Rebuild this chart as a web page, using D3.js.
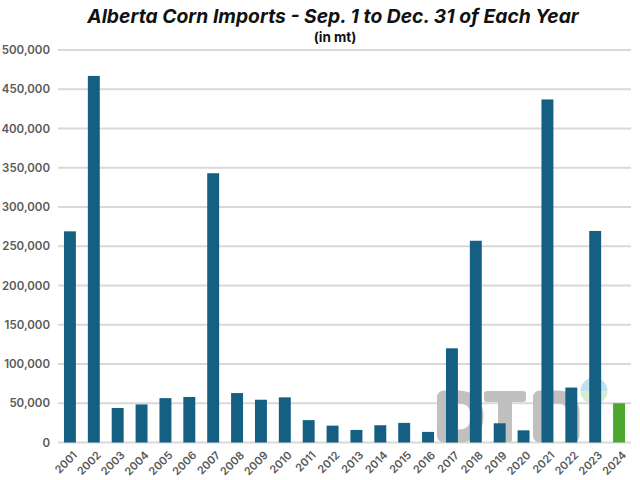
<!DOCTYPE html>
<html>
<head>
<meta charset="utf-8">
<script src="https://cdnjs.cloudflare.com/ajax/libs/d3/7.8.5/d3.min.js"></script>
<style>
  html, body { margin: 0; padding: 0; background: #fff; }
  svg { display: block; }
  text { font-family: "Inter", "Open Sans", sans-serif; }
  .grid line { stroke: #d9d9d9; stroke-width: 2px; }
  .tick-label { fill: #595959; font-weight: 600; }
</style>
</head>
<body>
<div id="container"></div>
<script>
var years = ['2001','2002','2003','2004','2005','2006','2007','2008','2009','2010','2011','2012',
  '2013','2014','2015','2016','2017','2018','2019','2020','2021','2022','2023','2024'];
var imports = [269000,467000,44000,48500,56500,58000,343000,63000,54500,57500,28500,21500,
  16000,22000,25000,13500,120000,257000,24500,15500,437000,70000,269500,50000];
var yTicks = [0,50000,100000,150000,200000,250000,300000,350000,400000,450000,500000];
var highlightYear = '2024';

var width = 640, height = 480;
var margin = {top: 50, right: 9, bottom: 37.5, left: 58};

var svg = d3.select('#container').append('svg')
  .attr('width', width)
  .attr('height', height);

var x = d3.scaleBand()
  .domain(years)
  .range([margin.left, width - margin.right])
  .paddingInner(0.5)
  .paddingOuter(0.25);

var y = d3.scaleLinear()
  .domain([0, 500000])
  .range([height - margin.bottom, margin.top]);

// gridlines
svg.append('g').attr('class', 'grid')
  .selectAll('line')
  .data(yTicks)
  .enter().append('line')
  .attr('x1', margin.left)
  .attr('x2', width - margin.right)
  .attr('y1', function (d) { return y(d); })
  .attr('y2', function (d) { return y(d); });

// watermark sits over the grid, under the bars
var markColor = '#c0c0c0';
var mark = svg.append('g');
mark.append('path')
  .attr('d', 'M443.5 397 V436 H458 Q477 436 477 416.5 Q477 397 458 397 Z')
  .attr('fill', 'none')
  .attr('stroke', markColor)
  .attr('stroke-width', 13)
  .attr('stroke-linejoin', 'round');
mark.append('rect')
  .attr('x', 484).attr('y', 391).attr('width', 42).attr('height', 11).attr('rx', 3)
  .attr('fill', markColor);
mark.append('rect')
  .attr('x', 498).attr('y', 391).attr('width', 14).attr('height', 51).attr('rx', 2)
  .attr('fill', markColor);
mark.append('path')
  .attr('d', 'M539.5 436 V397 H557 Q573 397 573 413 V436')
  .attr('fill', 'none')
  .attr('stroke', markColor)
  .attr('stroke-width', 13)
  .attr('stroke-linecap', 'round')
  .attr('stroke-linejoin', 'round');
mark.append('path')
  .attr('d', 'M580.5 391 A13.5 13.5 0 0 1 607.5 391 Z')
  .attr('fill', '#bfe0f2');
mark.append('path')
  .attr('d', 'M580.5 391 A13.5 13.5 0 0 0 607.5 391 Z')
  .attr('fill', '#d8ecd0');

// bars
svg.append('g')
  .selectAll('rect')
  .data(years)
  .enter().append('rect')
  .attr('x', function (d) { return x(d); })
  .attr('width', x.bandwidth())
  .attr('y', function (d, i) { return y(imports[i]); })
  .attr('height', function (d, i) { return y(0) - y(imports[i]); })
  .attr('fill', function (d) { return d === highlightYear ? '#4ea72e' : '#156082'; });

// y labels
svg.append('g')
  .selectAll('text')
  .data(yTicks)
  .enter().append('text')
  .attr('class', 'tick-label')
  .attr('x', 50)
  .attr('y', function (d) { return y(d); })
  .attr('dy', '0.35em')
  .attr('text-anchor', 'end')
  .style('font-size', '11.5px')
  .text(d3.format(','));

// x labels
svg.append('g')
  .selectAll('text')
  .data(years)
  .enter().append('text')
  .attr('class', 'tick-label')
  .attr('text-anchor', 'end')
  .attr('transform', function (d) {
    return 'translate(' + (x(d) + x.bandwidth() / 2 + 4) + ',452) rotate(-45)';
  })
  .attr('dy', '0.5em')
  .style('font-size', '11px')
  .text(function (d) { return d; });

// titles
svg.append('text')
  .attr('x', 333).attr('y', 23)
  .attr('text-anchor', 'middle')
  .style('font-size', '19.3px')
  .style('font-weight', 700)
  .style('font-style', 'italic')
  .attr('fill', '#111')
  .text('Alberta Corn Imports - Sep. 1 to Dec. 31 of Each Year');
svg.append('text')
  .attr('x', 335).attr('y', 42)
  .attr('text-anchor', 'middle')
  .style('font-size', '13.5px')
  .style('font-weight', 700)
  .attr('fill', '#111')
  .text('(in mt)');
</script>
</body>
</html>
